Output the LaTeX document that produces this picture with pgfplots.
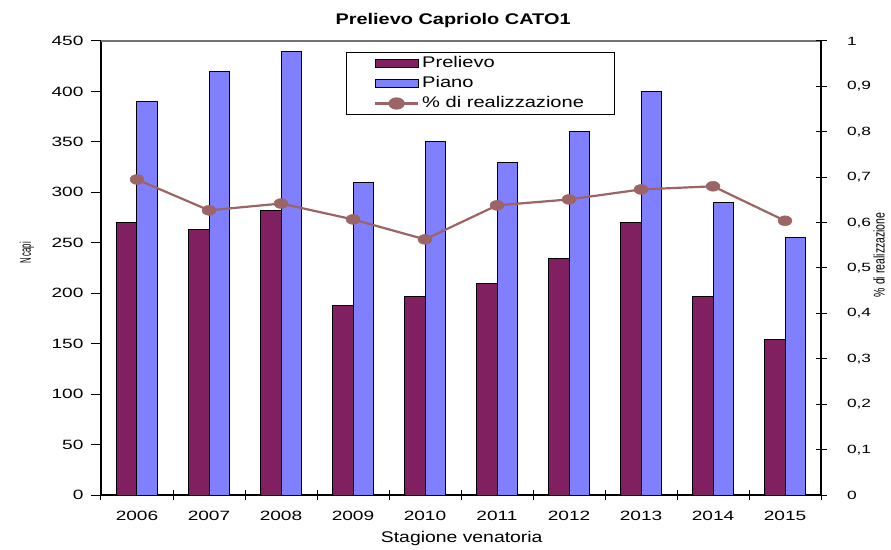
\documentclass[border=0pt]{standalone}
\usepackage{fontspec}
\setmainfont{Liberation Sans}
\usepackage{pgfplots}
\pgfplotsset{compat=1.18}
\definecolor{prel}{HTML}{802060}
\definecolor{piano}{HTML}{8080FF}
\definecolor{perc}{HTML}{9C6464}
\newcommand\sx[1]{\scalebox{1.3}[1]{#1}}
\newcommand\tx[1]{\scalebox{1.42}[1]{#1}}
\newcommand\rx[1]{\scalebox{1.45}[1]{#1}}
\newcommand\lfont{\fontsize{15.5}{18}\selectfont}
\newcommand\tfont{\fontsize{13.5}{16}\selectfont}
\newcommand\rfont{\fontsize{12}{14}\selectfont}
\begin{document}
\begin{tikzpicture}
\useasboundingbox (-101bp,-55bp) rectangle (790bp,495bp);
\begin{axis}[
  scale only axis, width=720bp, height=454bp,
  xmin=-0.5, xmax=9.5, ymin=0, ymax=450,
  ybar=0pt, bar width=20.5bp,
  axis x line*=bottom, axis y line*=left,
  axis line style={black, line width=1.3bp, -},
  xtick={0,...,9},
  xticklabels={\tx{2006},\tx{2007},\tx{2008},\tx{2009},\tx{2010},\tx{2011},\tx{2012},\tx{2013},\tx{2014},\tx{2015}},
  major x tick style={draw=none},
  minor xtick={-0.5,0.5,...,9.5},
  minor x tick style={black, line width=1bp},
  minor tick length=9bp,
  xtick align=center,
  ytick={0,50,...,450},
  ytick align=outside,
  major tick length=10bp,
  y tick style={black, line width=1bp},
  /pgf/number format/assume math mode=true,
  yticklabel={\tx{\pgfmathprintnumber{\tick}}},
  tick label style={font=\tfont},
  xticklabel style={anchor=north, yshift=-7.5bp},
  yticklabel style={anchor=east, xshift=-4bp},
  ylabel={\lfont\scalebox{0.5}[1]{N capi}},
  ylabel style={at={([xshift=-74bp]axis description cs:0,0.533)}, anchor=center},
  xlabel={\scalebox{1.255}[1]{Stagione venatoria}},
  xlabel style={at={([yshift=-44bp]axis description cs:0.501,0)}, anchor=center, font=\lfont},
  title={\scalebox{1.29}[1]{\bfseries Prelievo Capriolo CATO1}},
  title style={at={([yshift=20bp]axis description cs:0.489,1)}, anchor=center, yshift=-6pt, font=\lfont},
]
\addplot[fill=prel, draw=black, line width=1bp] coordinates {
(0,270) (1,263) (2,282) (3,188) (4,197) (5,210) (6,234) (7,270) (8,197) (9,154)};
\addplot[fill=piano, draw=black, line width=1bp] coordinates {
(0,390) (1,420) (2,440) (3,310) (4,350) (5,330) (6,360) (7,400) (8,290) (9,255)};
\draw[black!55, line width=1.2bp] (rel axis cs:0,1) -- (rel axis cs:1,1);
\end{axis}
\begin{axis}[
  scale only axis, width=720bp, height=454bp, clip=false,
  xmin=-0.5, xmax=9.5, ymin=0, ymax=1,
  axis x line=none, axis y line*=right,
  axis line style={black, line width=1.3bp, -},
  ytick={0,0.1,0.2,0.3,0.4,0.5,0.6,0.7,0.8,0.9,1},
  ytick align=center,
  major tick length=11bp,
  y tick style={black, line width=1bp},
  /pgf/number format/assume math mode=true,
  yticklabel={\rx{\pgfmathprintnumber[fixed,precision=1,use comma]{\tick}}},
  tick label style={font=\rfont},
  yticklabel style={anchor=west, xshift=17bp},
  legend style={at={(0.3403,0.9758)}, anchor=north west, draw=black, line width=1bp,
    font=\lfont, inner xsep=27.5bp, inner ysep=1bp, row sep=0pt,
    cells={anchor=west},
    nodes={inner xsep=3bp, inner ysep=3bp, text height=11bp, text depth=3bp}},
]
\addlegendimage{fill=prel, draw=black, line width=1bp, legend image code/.code={\draw[fill=prel, draw=black, line width=1bp] (0bp,-4bp) rectangle (43bp,4bp);}}
\addlegendentry{\sx{Prelievo}}
\addlegendimage{fill=piano, draw=black, line width=1bp, legend image code/.code={\draw[fill=piano, draw=black, line width=1bp] (0bp,-4bp) rectangle (43bp,4bp);}}
\addlegendentry{\sx{Piano}}
\addplot[perc, line width=2.2bp, mark=*, mark size=5bp,
  mark options={xscale=1.4, fill=perc, draw=perc, line width=0.4bp},
  legend image code/.code={\draw[perc, line width=2.2bp] (0bp,0bp) -- (43bp,0bp); \fill[perc] (21.5bp,0bp) ellipse (7bp and 5bp);}]
 coordinates {
(0,0.695) (1,0.627) (2,0.642) (3,0.607) (4,0.563) (5,0.638) (6,0.651) (7,0.673) (8,0.680) (9,0.604)};
\addlegendentry{\sx{\% di realizzazione}}
\node[rotate=90, font=\lfont] at ([xshift=58bp]rel axis cs:1,0.529) {\scalebox{0.68}[1]{\% di realizzazione}};
\end{axis}
\end{tikzpicture}
\end{document}
